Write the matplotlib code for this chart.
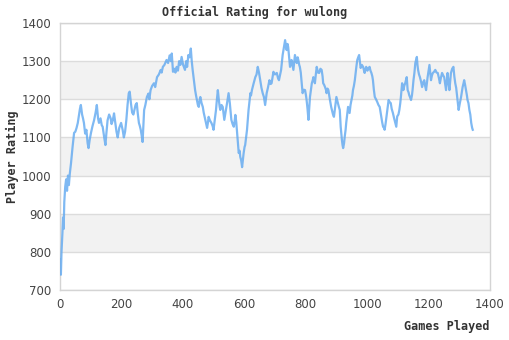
import matplotlib.pyplot as plt

# rating after each sampled game
games = [0, 3, 5, 8, 10, 12, 14, 17, 20, 23, 26, 29, 32, 36, 41, 46, 50, 54, 58, 62,
         65, 68, 72, 75, 78, 82, 86, 90, 93, 97, 101, 106, 111, 116, 120, 124, 127, 132, 136, 139,
         144, 148, 151, 155, 160, 165, 168, 172, 176, 180, 184, 188, 193, 199, 204, 208, 212, 216, 220, 224,
         227, 231, 235, 239, 243, 246, 250, 253, 257, 260, 263, 266, 269, 272, 274, 278, 283, 288, 291, 295,
         300, 306, 310, 316, 322, 328, 331, 335, 340, 347, 352, 357, 361, 364, 368, 372, 376, 380, 384, 388,
         392, 396, 401, 407, 411, 414, 418, 422, 426, 429, 432, 436, 440, 443, 446, 449, 452, 455, 457, 461,
         465, 468, 471, 475, 479, 482, 484, 488, 493, 497, 500, 504, 508, 511, 514, 517, 520, 522, 526, 530,
         533, 535, 539, 544, 549, 553, 556, 558, 562, 566, 569, 571, 574, 576, 579, 582, 585, 587, 590, 593,
         596, 598, 601, 603, 606, 609, 612, 614, 617, 620, 622, 625, 630, 636, 640, 644, 648, 652, 656, 660,
         664, 668, 673, 677, 682, 686, 689, 695, 700, 706, 710, 713, 717, 720, 725, 729, 733, 736, 738, 741,
         743, 746, 749, 752, 754, 757, 760, 763, 765, 768, 771, 774, 776, 779, 781, 784, 787, 790, 794, 798,
         801, 803, 806, 809, 812, 814, 817, 820, 823, 825, 828, 830, 833, 836, 840, 844, 848, 852, 855, 857,
         860, 863, 866, 868, 871, 874, 878, 881, 883, 886, 889, 892, 896, 900, 905, 908, 911, 914, 916, 918,
         920, 922, 925, 927, 930, 932, 935, 938, 941, 943, 946, 949, 952, 954, 957, 960, 962, 965, 968, 971,
         974, 977, 979, 983, 987, 990, 992, 995, 997, 1001, 1005, 1008, 1011, 1014, 1017, 1019, 1022, 1025, 1029, 1033,
         1037, 1041, 1044, 1046, 1049, 1052, 1055, 1057, 1060, 1063, 1066, 1070, 1074, 1077, 1080, 1084, 1088, 1092, 1095, 1098,
         1102, 1105, 1108, 1110, 1114, 1118, 1121, 1124, 1129, 1132, 1135, 1137, 1140, 1143, 1146, 1148, 1151, 1154, 1157, 1160,
         1162, 1164, 1166, 1169, 1172, 1176, 1179, 1183, 1186, 1189, 1192, 1195, 1197, 1200, 1203, 1206, 1208, 1211, 1214, 1218,
         1222, 1226, 1230, 1234, 1237, 1240, 1244, 1248, 1251, 1254, 1257, 1260, 1262, 1265, 1268, 1271, 1273, 1277, 1281, 1284,
         1287, 1290, 1292, 1295, 1298, 1302, 1306, 1309, 1311, 1314, 1316, 1319, 1322, 1325, 1327, 1330, 1333, 1336, 1339, 1342,
         1344]
rating = [780, 740, 800, 850, 890, 860, 930, 970, 990, 960, 1000, 975, 1005, 1033, 1075, 1112, 1115, 1125, 1138, 1160,
          1175, 1185, 1160, 1150, 1138, 1110, 1120, 1085, 1072, 1095, 1112, 1130, 1145, 1165, 1185, 1150, 1138, 1150, 1132, 1128,
          1100, 1080, 1110, 1145, 1160, 1150, 1135, 1145, 1163, 1140, 1115, 1100, 1125, 1138, 1120, 1100, 1115, 1145, 1185, 1216,
          1220, 1190, 1165, 1160, 1175, 1185, 1190, 1165, 1138, 1130, 1120, 1105, 1088, 1140, 1172, 1185, 1206, 1215, 1200, 1224,
          1235, 1242, 1232, 1258, 1265, 1277, 1270, 1285, 1290, 1303, 1295, 1315, 1300, 1320, 1272, 1280, 1270, 1285, 1275, 1300,
          1290, 1311, 1290, 1277, 1300, 1285, 1316, 1310, 1333, 1300, 1277, 1250, 1224, 1210, 1198, 1185, 1180, 1200, 1206, 1190,
          1180, 1165, 1154, 1140, 1125, 1140, 1154, 1145, 1138, 1130, 1120, 1145, 1172, 1200, 1224, 1200, 1180, 1172, 1185, 1180,
          1160, 1146, 1165, 1190, 1216, 1190, 1165, 1146, 1135, 1128, 1145, 1159, 1140, 1120, 1090, 1059, 1065, 1049, 1040, 1022,
          1045, 1059, 1075, 1080, 1100, 1120, 1150, 1172, 1195, 1216, 1210, 1224, 1240, 1258, 1265, 1285, 1270, 1250, 1230, 1216,
          1206, 1185, 1216, 1230, 1250, 1240, 1242, 1272, 1265, 1269, 1255, 1250, 1265, 1277, 1316, 1335, 1355, 1340, 1329, 1345,
          1337, 1310, 1285, 1295, 1303, 1290, 1277, 1300, 1316, 1305, 1295, 1310, 1303, 1290, 1285, 1270, 1242, 1216, 1225, 1224,
          1210, 1198, 1175, 1146, 1180, 1206, 1225, 1242, 1250, 1258, 1250, 1242, 1265, 1285, 1270, 1269, 1280, 1277, 1260, 1242,
          1238, 1232, 1225, 1216, 1228, 1224, 1203, 1190, 1180, 1170, 1160, 1154, 1180, 1206, 1190, 1180, 1172, 1128, 1110, 1093,
          1080, 1072, 1085, 1101, 1120, 1138, 1160, 1180, 1170, 1164, 1185, 1198, 1210, 1224, 1235, 1250, 1265, 1285, 1303, 1310,
          1316, 1295, 1282, 1290, 1285, 1275, 1269, 1280, 1285, 1275, 1282, 1285, 1275, 1269, 1260, 1250, 1225, 1206, 1200, 1193,
          1185, 1180, 1165, 1154, 1140, 1128, 1125, 1120, 1135, 1154, 1175, 1198, 1192, 1190, 1175, 1164, 1150, 1138, 1128, 1155,
          1160, 1172, 1190, 1206, 1242, 1224, 1235, 1242, 1258, 1224, 1218, 1211, 1205, 1198, 1210, 1224, 1250, 1269, 1295, 1305,
          1311, 1290, 1277, 1265, 1258, 1245, 1232, 1245, 1250, 1235, 1224, 1245, 1258, 1275, 1290, 1265, 1250, 1262, 1269, 1272,
          1277, 1270, 1269, 1255, 1242, 1255, 1269, 1262, 1258, 1240, 1224, 1250, 1269, 1245, 1224, 1250, 1269, 1280, 1285, 1260,
          1242, 1230, 1216, 1195, 1172, 1190, 1206, 1222, 1232, 1242, 1250, 1238, 1224, 1210, 1198, 1190, 1172, 1160, 1138, 1125,
          1120]

x_ticks = [0, 200, 400, 600, 800, 1000, 1200, 1400]
y_ticks = [700, 800, 900, 1000, 1100, 1200, 1300, 1400]

fig = plt.figure(figsize=(5.1, 3.4), dpi=100)
ax = fig.add_axes([0.1176, 0.1471, 0.8431, 0.7853])

# alternating grey bands behind the line
for lo in [800, 1000, 1200]:
    ax.axhspan(lo, lo + 100, color='#f2f2f2', zorder=0, lw=0)
for y in y_ticks:
    ax.axhline(y, color='#dcdcdc', lw=1, zorder=1)

ax.plot(games, rating, color='#5fa8f0', lw=1.6, alpha=0.8, zorder=3)

ax.set_xlim(0, 1400)
ax.set_ylim(700, 1400)
ax.set_xticks(x_ticks)
ax.set_yticks(y_ticks)
ax.tick_params(length=0, labelsize=8.5, colors='#444444', pad=6)
for s in ax.spines.values():
    s.set_color('#d4d4d4')
    s.set_linewidth(1)

mono = {'family': 'DejaVu Sans Mono', 'weight': 'bold', 'size': 8.5, 'color': '#333333'}
fig.text(0.5, 0.962, 'Official Rating for wulong', ha='center', va='center', **mono)
fig.text(0.024, 0.54, 'Player Rating', rotation=90, ha='center', va='center', **mono)
fig.text(0.96, 0.04, 'Games Played', ha='right', va='center', **mono)

fig.savefig('out.png', dpi=100)
